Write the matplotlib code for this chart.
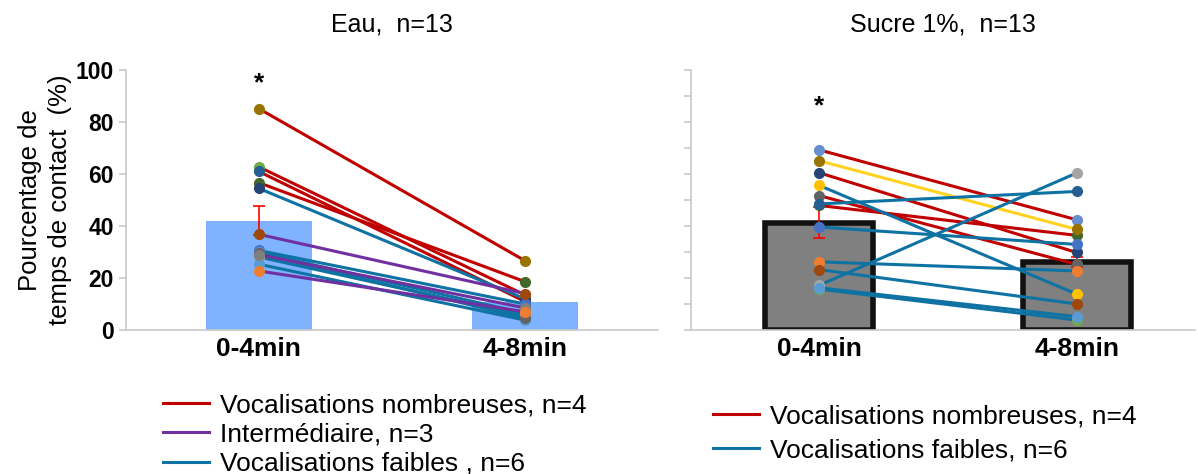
import numpy as np
import matplotlib.pyplot as plt
from matplotlib.lines import Line2D

plt.rcParams['font.family'] = ['Liberation Sans', 'DejaVu Sans']

periods = ['0-4min', '4-8min']

# Eau panel: one row per animal, values at 0-4min and 4-8min (%)
eau_start = [85.2, 62.8, 61.0, 56.7, 54.5, 30.6, 29.9, 28.1, 25.3, 29.5, 36.8, 29.0, 22.7]
eau_end = [26.7, 13.5, 11.0, 18.6, 12.0, 10.0, 6.4, 5.5, 3.8, 4.5, 14.0, 8.5, 7.0]
eau_group = ['nomb', 'nomb', 'nomb', 'nomb', 'faib', 'faib', 'faib', 'faib', 'faib', 'faib',
             'inter', 'inter', 'inter']
eau_marker = ['#997300', '#70AD47', '#255E91', '#43682B', '#264478', '#4472C4', '#698ED0',
              '#A5A5A5', '#5B9BD5', '#636363', '#9E480E', '#7F7F7F', '#ED7D31']
eau_mean = [42.1, 10.6]
eau_err = [5.5, 1.9]

# Sucre 1% panel
sucre_start = [69.3, 60.5, 51.7, 47.9, 65.1, 55.6, 48.5, 39.6, 26.2, 23.2, 17.2, 15.7, 16.2]
sucre_end = [42.4, 29.8, 25.2, 36.4, 38.7, 13.8, 53.3, 32.9, 22.7, 10.0, 60.4, 3.8, 5.1]
sucre_group = ['nomb', 'nomb', 'nomb', 'nomb', 'jaune', 'faib', 'faib', 'faib', 'faib', 'faib',
               'faib', 'faib', 'faib']
sucre_marker = ['#698ED0', '#264478', '#636363', '#43682B', '#997300', '#FFC000', '#255E91',
                '#4472C4', '#ED7D31', '#9E480E', '#A5A5A5', '#70AD47', '#5B9BD5']
sucre_mean = [41.3, 26.2]
sucre_err = [6.0, 2.0]

group_color = {'nomb': '#C00000', 'inter': '#7030A0', 'faib': '#0E72A3', 'jaune': '#FFD320'}

fig = plt.figure(figsize=(11.98, 4.74), dpi=100)
ax1 = fig.add_axes([0.105, 0.304, 0.444, 0.548])
ax2 = fig.add_axes([0.5765, 0.304, 0.421, 0.548])

x = np.arange(len(periods))


def draw_panel(ax, start, end, group, mcol, mean, err, bar_kw, width):
    ax.bar(x, mean, width=width, zorder=1, **bar_kw)
    ax.errorbar(x, mean, yerr=err, fmt='none', ecolor='#FF0000', elinewidth=1.2,
                capsize=4, capthick=1.2, zorder=2)
    for s, e, g in zip(start, end, group):
        ax.plot(x, [s, e], color=group_color[g], lw=2.2, zorder=3)
    for s, e, c in zip(start, end, mcol):
        ax.plot(x, [s, e], ls='none', marker='o', ms=7, color=c, mec=c, zorder=4)
    ax.set_ylim(0, 100)
    for sp in ['top', 'right']:
        ax.spines[sp].set_visible(False)
    for sp in ['left', 'bottom']:
        ax.spines[sp].set_color('#C8C8C8')
        ax.spines[sp].set_linewidth(1.2)
    ax.set_xticks(x)
    ax.set_xticklabels(periods, fontsize=19, fontweight='bold')
    ax.tick_params(axis='x', length=0, pad=5)
    ax.tick_params(axis='y', color='#C8C8C8', length=5, width=1.2)


draw_panel(ax1, eau_start, eau_end, eau_group, eau_marker, eau_mean, eau_err,
           dict(color='#7FB2FF'), 0.4)
ax1.set_xlim(-0.5, 1.5)
ax1.set_yticks(np.arange(0, 101, 20))
ax1.set_yticklabels([str(v) for v in range(0, 101, 20)], fontsize=16.5, fontweight='bold')
ax1.set_ylabel('Pourcentage de\ntemps de contact  (%)', fontsize=18.5, labelpad=3,
               linespacing=1.3)
ax1.set_title('Eau,  n=13', fontsize=18, pad=28)
ax1.text(0, 95, '*', ha='center', va='center', fontsize=19, fontweight='bold')

draw_panel(ax2, sucre_start, sucre_end, sucre_group, sucre_marker, sucre_mean, sucre_err,
           dict(color='#808080', edgecolor='#111111', linewidth=4), 0.42)
ax2.set_xlim(-0.5, 1.46)
ax2.set_yticks(np.arange(0, 101, 10))
ax2.set_yticklabels([])
ax2.set_title('Sucre 1%,  n=13', fontsize=18, pad=28)
ax2.text(0, 86, '*', ha='center', va='center', fontsize=19, fontweight='bold')

h1 = [Line2D([], [], color=group_color[k], lw=2.2) for k in ['nomb', 'inter', 'faib']]
fig.legend(h1, ['Vocalisations nombreuses, n=4', 'Intermédiaire, n=3',
                'Vocalisations faibles , n=6'],
           loc='upper left', bbox_to_anchor=(0.136, 0.170), frameon=False, fontsize=19,
           handlelength=1.75, handletextpad=0.4, labelspacing=0.2, borderpad=0,
           borderaxespad=0)

h2 = [Line2D([], [], color=group_color[k], lw=2.2) for k in ['nomb', 'faib']]
fig.legend(h2, ['Vocalisations nombreuses, n=4', 'Vocalisations faibles, n=6'],
           loc='upper left', bbox_to_anchor=(0.595, 0.147), frameon=False, fontsize=19,
           handlelength=1.75, handletextpad=0.4, labelspacing=0.37, borderpad=0,
           borderaxespad=0)

fig.savefig('out.png', dpi=100)
